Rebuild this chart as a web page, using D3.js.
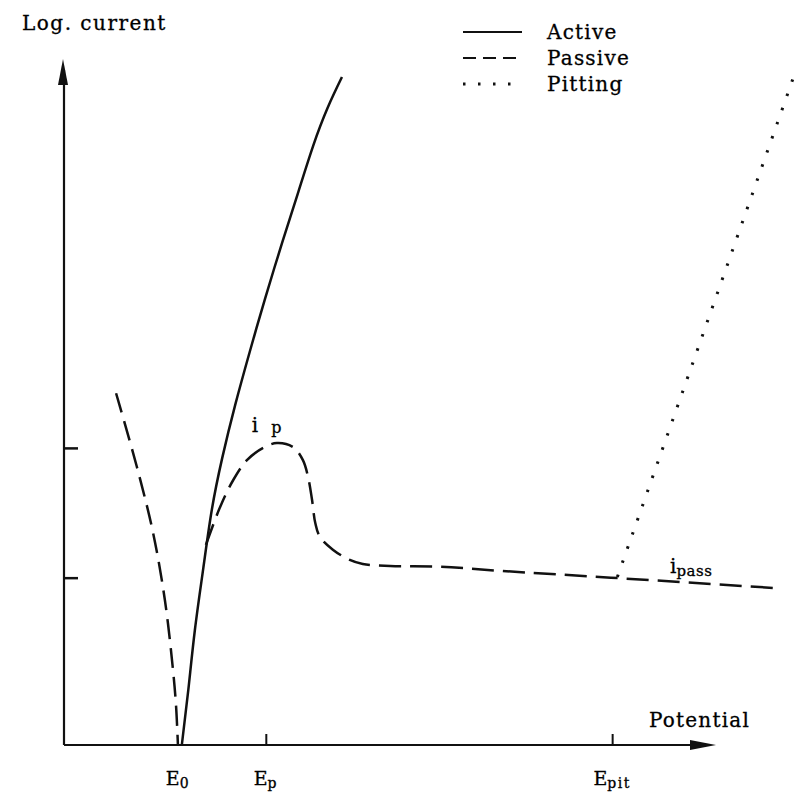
<!DOCTYPE html>
<html>
<head>
<meta charset="utf-8">
<script src="https://cdn.jsdelivr.net/npm/d3@7"></script>
<style>
  body { margin: 0; background: #fff; }
  text { font-family: "DejaVu Serif", "Liberation Serif", serif; fill: #000; stroke: #000; stroke-width: 0.3; }
</style>
</head>
<body>
<script>
// potential (x) and log current (y), both in arbitrary units 0..10
const activeX = [1.81, 1.91, 2.01, 2.14, 2.27, 2.43, 2.63, 2.86, 3.09, 3.35, 3.60, 3.83, 4.05, 4.27];
const activeY = [0, 0.81, 1.68, 2.59, 3.44, 4.20, 4.98, 5.78, 6.54, 7.35, 8.10, 8.78, 9.33, 9.78];

const passiveLeftX = [0.80, 1.12, 1.37, 1.55, 1.67, 1.72, 1.75];
const passiveLeftY = [5.15, 4.07, 3.10, 2.12, 1.14, 0.59, 0];

const passiveRightX = [2.18, 2.40, 2.60, 2.81, 3.06, 3.27, 3.52, 3.67, 3.75, 3.81, 3.86, 3.93, 4.13, 4.39, 4.59, 5.01, 5.78, 6.70, 8.40, 10.89];
const passiveRightY = [2.93, 3.49, 3.88, 4.17, 4.35, 4.42, 4.36, 4.17, 3.92, 3.59, 3.25, 3.05, 2.86, 2.71, 2.65, 2.62, 2.61, 2.55, 2.45, 2.30];

const pittingX = [8.50, 11.24];
const pittingY = [2.46, 9.87];

const E0 = 1.75, Ep = 3.10, Epit = 8.42;
const iP = 4.35, iPass = 2.45;

const xTickValues = [Ep, Epit];
const yTickValues = [iPass, iP];
const xLabelValues = [E0, Ep, Epit];
const xLabelSubs = ["0", "p", "pit"];

const legendNames = ["Active", "Passive", "Pitting"];

const width = 807, height = 805;

let svg = d3.select("body")
    .append("svg")
    .attr("width", width)
    .attr("height", height);

let x = d3.scaleLinear().domain([0, 10]).range([64, 715]);
let y = d3.scaleLinear().domain([0, 10]).range([745, 62]);

let line = d3.line()
    .x(d => x(d[0]))
    .y(d => y(d[1]))
    .curve(d3.curveCatmullRom);

const zip = (a, b) => a.map((v, i) => [v, b[i]]);

// axes with arrow heads
svg.append("line")
    .attr("x1", x(0)).attr("y1", y(0))
    .attr("x2", x(0)).attr("y2", y(10) + 8)
    .attr("stroke", "#111").attr("stroke-width", 2.2);
svg.append("path")
    .attr("d", `M${x(0) - 1},${y(10) - 3} L${x(0) - 6},${y(10) + 23} L${x(0) + 4},${y(10) + 23} Z`)
    .attr("fill", "#111");

svg.append("line")
    .attr("x1", x(0)).attr("y1", y(0))
    .attr("x2", x(10) - 8).attr("y2", y(0))
    .attr("stroke", "#111").attr("stroke-width", 2.2);
svg.append("path")
    .attr("d", `M${x(10) + 1},${y(0)} L${x(10) - 25},${y(0) - 5} L${x(10) - 25},${y(0) + 5} Z`)
    .attr("fill", "#111");

// tick marks
let yAxis = svg.append("g")
    .attr("transform", `translate(${x(0)},0)`)
    .call(d3.axisRight(y).tickValues(yTickValues).tickSize(14).tickFormat(""));
yAxis.select(".domain").remove();
yAxis.selectAll("line").attr("stroke", "#111").attr("stroke-width", 2.5);

let xAxis = svg.append("g")
    .attr("transform", `translate(0,${y(0)})`)
    .call(d3.axisTop(x).tickValues(xTickValues).tickSize(11).tickFormat(""));
xAxis.select(".domain").remove();
xAxis.selectAll("line").attr("stroke", "#111").attr("stroke-width", 2);

// curves
svg.append("path")
    .datum(zip(activeX, activeY))
    .attr("d", line.curve(d3.curveNatural))
    .attr("fill", "none")
    .attr("stroke", "#111")
    .attr("stroke-width", 2.5);
line.curve(d3.curveCatmullRom);

svg.append("path")
    .datum(zip(passiveLeftX, passiveLeftY))
    .attr("d", line)
    .attr("fill", "none")
    .attr("stroke", "#111")
    .attr("stroke-width", 2.5)
    .attr("stroke-dasharray", "20,9");

svg.append("path")
    .datum(zip(passiveRightX, passiveRightY))
    .attr("d", line)
    .attr("fill", "none")
    .attr("stroke", "#111")
    .attr("stroke-width", 2.5)
    .attr("stroke-dasharray", "22,9");

svg.append("path")
    .datum(zip(pittingX, pittingY))
    .attr("d", d3.line().x(d => x(d[0])).y(d => y(d[1])))
    .attr("fill", "none")
    .attr("stroke", "#111")
    .attr("stroke-width", 3)
    .attr("stroke-dasharray", "2.5,12.5");

// axis titles
svg.append("text")
    .attr("x", 22).attr("y", 30)
    .attr("font-size", 20)
    .attr("letter-spacing", 1.5)
    .text("Log. current");

svg.append("text")
    .attr("x", 649).attr("y", 727)
    .attr("font-size", 20)
    .attr("letter-spacing", 1.2)
    .text("Potential");

// potential labels
xLabelValues.forEach((v, i) => {
    let t = svg.append("text")
        .attr("x", x(v)).attr("y", 785)
        .attr("text-anchor", "middle")
        .attr("font-size", 19);
    t.append("tspan").text("E");
    t.append("tspan")
        .attr("font-size", 14)
        .attr("dy", 3)
        .attr("letter-spacing", 1.5)
        .text(xLabelSubs[i]);
});

// current labels
let ipLabel = svg.append("text")
    .attr("x", x(Ep) - 14).attr("y", 432)
    .attr("font-size", 20);
ipLabel.append("tspan").text("i");
ipLabel.append("tspan").attr("dx", 13).attr("dy", 1).attr("font-size", 16).text("p");

let ipassLabel = svg.append("text")
    .attr("x", 670).attr("y", 573)
    .attr("font-size", 20);
ipassLabel.append("tspan").text("i");
ipassLabel.append("tspan").attr("dy", 3).attr("font-size", 15).attr("letter-spacing", 0.5).text("pass");

// legend
const legendDash = ["none", "13,7", "2.5,12.5"];
let legend = svg.append("g");
legendNames.forEach((name, i) => {
    let ly = 32 + i * 26;
    legend.append("line")
        .attr("x1", 463).attr("x2", 522)
        .attr("y1", ly).attr("y2", ly)
        .attr("stroke", "#111")
        .attr("stroke-width", i === 2 ? 3 : 2)
        .attr("stroke-dasharray", legendDash[i]);
    legend.append("text")
        .attr("x", 547).attr("y", ly + 7)
        .attr("font-size", 20)
        .attr("letter-spacing", 1.2)
        .text(name);
});
</script>
</body>
</html>
